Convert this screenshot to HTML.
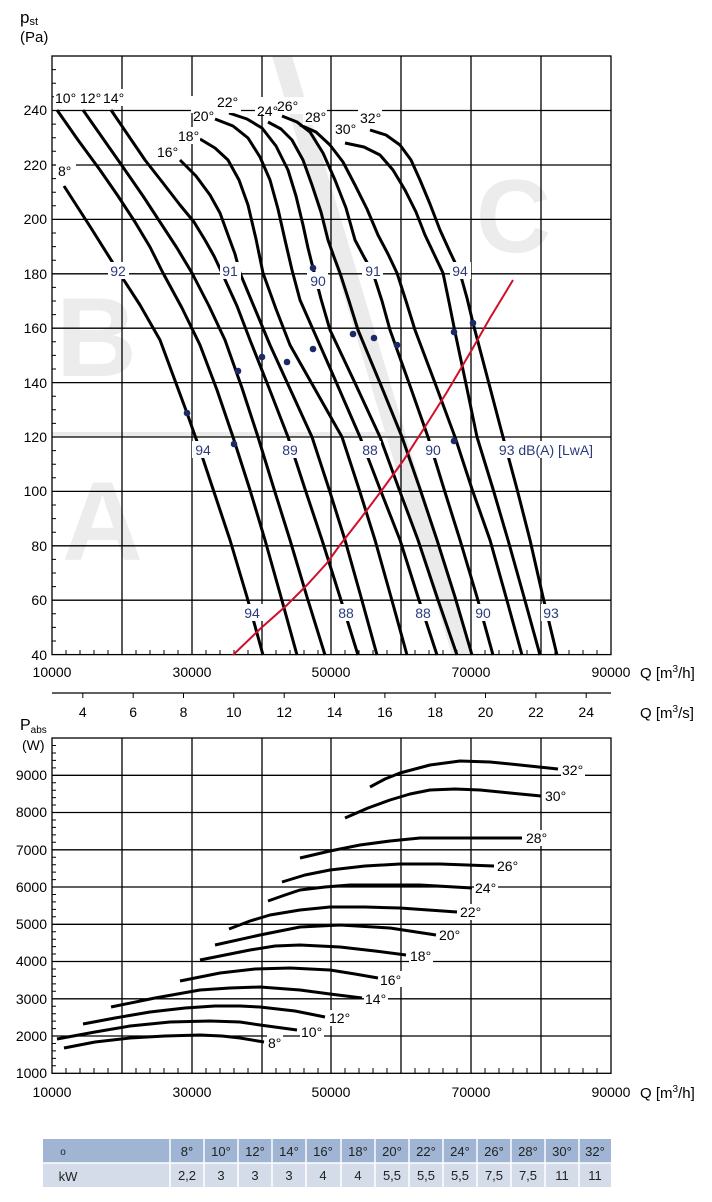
<!DOCTYPE html>
<html><head><meta charset="utf-8"><style>
html,body{margin:0;padding:0;background:#fff;}
svg{display:block;font-family:"Liberation Sans Narrow","Liberation Sans",sans-serif;}
</style></head><body>
<svg width="712" height="1202" viewBox="0 0 712 1202" xmlns="http://www.w3.org/2000/svg">
<!-- watermark -->
<g fill="#ececec" font-family="Liberation Sans, sans-serif" font-weight="bold">
<text x="56" y="376" font-size="112">B</text>
<text x="62" y="560" font-size="112">A</text>
<text x="476" y="252" font-size="104">C</text>
</g>
<polygon points="272,56 292,56 472,655 452,655" fill="#ebebeb"/>
<rect x="52" y="432" width="346" height="5" fill="#ebebeb"/>

<!-- top grid -->
<g stroke="#000" stroke-width="1.3" fill="none">
<rect x="52" y="56" width="559" height="598.6"/>
<path d="M122 56V655M192 56V655M262 56V655M331 56V655M401 56V655M471 56V655M541 56V655"/>
<path d="M52 110.5H611M52 165H611M52 219.4H611M52 273.8H611M52 328.2H611M52 382.6H611M52 437H611M52 491.4H611M52 545.8H611M52 600.2H611"/>
</g>
<g stroke="#000" stroke-width="1" id="tyt"></g>
<path stroke="#000" stroke-width="1" d="
M52 69.6h4M52 83.2h4M52 96.8h4M52 124.1h4M52 137.7h4M52 151.3h4M52 178.6h4M52 192.2h4M52 205.8h4M52 233h4M52 246.6h4M52 260.2h4M52 287.4h4M52 301h4M52 314.6h4M52 341.8h4M52 355.4h4M52 369h4M52 396.2h4M52 409.8h4M52 423.4h4M52 450.6h4M52 464.2h4M52 477.8h4M52 505h4M52 518.6h4M52 532.2h4M52 559.4h4M52 573h4M52 586.6h4M52 613.8h4M52 627.4h4M52 641h4
M66 655v-5M80 655v-5M94 655v-5M108 655v-5M136 655v-5M150 655v-5M164 655v-5M178 655v-5M206 655v-5M220 655v-5M234 655v-5M248 655v-5M276 655v-5M290 655v-5M304 655v-5M318 655v-5M345 655v-5M359 655v-5M373 655v-5M387 655v-5M415 655v-5M429 655v-5M443 655v-5M457 655v-5M485 655v-5M499 655v-5M513 655v-5M527 655v-5M555 655v-5M569 655v-5M583 655v-5M597 655v-5"/>

<!-- top curves -->
<g stroke="#000" stroke-width="3" fill="none" stroke-linejoin="round" stroke-linecap="butt">
<polyline points="64,186 91,228 118,271 140,305 160,340 187,413 200,450 215,495 230,540 247,597 263,655"/>
<polyline points="57,110 78,140 100,170 118,196 135,222 150,247 163,273 182,308 200,345 217,390 233,437 250,490 265,540 281,597 297,655"/>
<polyline points="83,110 104,140 125,170 143,196 160,222 177,248 192,273 209,306 225,340 242,388 258,437 274,489 290,540 307,597 325,655"/>
<polyline points="111,110 128,135 145,160 163,183 180,205 194,222 205,240 214,256 222,273 237,306 250,340 269,388 288,437 305,489 322,540 340,597 358,655"/>
<polyline points="180,160 196,176 210,195 220,213 228,235 235,254 240,273 255,309 270,345 291,391 312,437 329,489 345,540 361,597 377,655"/>
<polyline points="200,139 215,148 228,160 239,180 248,205 256,239 263,273 276,309 290,345 316,391 342,437 359,489 375,540 391,597 407,655"/>
<polyline points="215,119 233,126 248,138 260,157 270,180 278,209 285,240 292,270 300,300 330,368 360,437 380,489 400,540 418,597 437,655"/>
<polyline points="229,113 247,119 262,128 276,146 288,170 296,196 303,225 308,248 313,268 321,299 330,330 355,383 380,437 399,489 418,540 437,597 457,655"/>
<polyline points="268,122 281,129 292,140 303,160 312,185 321,212 328,240 334,257 340,273 349,301 358,330 380,383 402,437 420,489 437,540 455,597 472,655"/>
<polyline points="282,116 297,122 310,132 323,153 335,180 346,208 355,240 364,257 373,273 382,301 390,330 409,383 428,437 444,489 460,540 477,597 493,655"/>
<polyline points="300,125 316,132 330,145 343,162 355,185 367,209 378,235 388,254 397,273 406,301 415,330 435,383 455,437 472,489 490,540 506,597 522,655"/>
<polyline points="345,143 364,147 380,155 393,170 405,190 416,212 425,235 434,254 443,273 449,302 455,332 466,384 477,437 493,489 508,540 524,597 540,655"/>
<polyline points="370,130 386,135 400,145 411,160 420,180 430,204 440,230 450,252 460,273 467,298 473,323 488,380 503,437 517,489 530,540 543,597 557,655"/>
</g>
<polyline points="233,655 260,629 287,605 307,585 327,563 340,545 361,518 382,490 403,461 423,430 447,392 470,353 490,318 507,290 513,280" stroke="#d0102a" stroke-width="2" fill="none"/>
<g fill="#1c2a66">
<circle cx="187" cy="413" r="3.3"/><circle cx="238" cy="371" r="3.3"/><circle cx="262" cy="357" r="3.3"/><circle cx="287" cy="362" r="3.3"/><circle cx="313" cy="349" r="3.3"/><circle cx="353" cy="334" r="3.3"/><circle cx="374" cy="338" r="3.3"/><circle cx="397" cy="345" r="3.3"/><circle cx="454" cy="332" r="3.3"/><circle cx="473" cy="323" r="3.3"/><circle cx="313" cy="268" r="3.3"/><circle cx="234" cy="444" r="3.3"/><circle cx="454" cy="441" r="3.3"/>
</g>
<!-- blue labels -->
<g font-size="14" fill="#2a3a7c" text-anchor="middle">
<g fill="#fff"><rect x="108" y="262" width="21" height="17"/><rect x="220" y="262" width="21" height="17"/><rect x="307" y="272" width="21" height="17"/><rect x="362" y="262" width="21" height="17"/><rect x="450" y="262" width="21" height="17"/><rect x="192" y="441" width="22" height="17"/><rect x="280" y="441" width="21" height="17"/><rect x="360" y="441" width="21" height="17"/><rect x="422" y="441" width="21" height="17"/><rect x="500" y="441" width="92" height="17"/><rect x="242" y="604" width="21" height="17"/><rect x="336" y="604" width="21" height="17"/><rect x="413" y="604" width="21" height="17"/><rect x="473" y="604" width="21" height="17"/><rect x="541" y="604" width="21" height="17"/></g>
<text x="118" y="276">92</text><text x="230" y="276">91</text><text x="318" y="286">90</text><text x="373" y="276">91</text><text x="460" y="276">94</text>
<text x="203" y="455">94</text><text x="290" y="455">89</text><text x="370" y="455">88</text><text x="433" y="455">90</text><text x="546" y="455">93 dB(A) [LwA]</text>
<text x="252" y="618">94</text><text x="346" y="618">88</text><text x="423" y="618">88</text><text x="483" y="618">90</text><text x="551" y="618">93</text>
</g>
<!-- degree labels top -->
<g font-size="14" fill="#000">
<g fill="#fff"><rect x="54" y="89" width="72" height="17"/><rect x="191" y="96" width="50" height="17"/><rect x="255" y="97" width="60" height="17"/><rect x="303" y="108" width="24" height="17"/><rect x="333" y="119" width="25" height="17"/><rect x="358" y="108" width="24" height="17"/><rect x="176" y="127" width="24" height="17"/><rect x="155" y="143" width="24" height="17"/><rect x="56" y="162" width="20" height="17"/></g>
<text x="55" y="103">10°</text><text x="80" y="103">12°</text><text x="103" y="103">14°</text>
<text x="193" y="121">20°</text><text x="217" y="107">22°</text><text x="257" y="116">24°</text><text x="277" y="111">26°</text><text x="305" y="122">28°</text><text x="335" y="134">30°</text><text x="360" y="123">32°</text>
<text x="178" y="141">18°</text><text x="157" y="157">16°</text><text x="58" y="176">8°</text>
</g>
<!-- top axis labels -->
<g font-size="14" fill="#000" text-anchor="end">
<text x="47" y="115">240</text><text x="47" y="170">220</text><text x="47" y="224">200</text><text x="47" y="279">180</text><text x="47" y="333">160</text><text x="47" y="388">140</text><text x="47" y="442">120</text><text x="47" y="496">100</text><text x="47" y="551">80</text><text x="47" y="605">60</text><text x="47" y="660">40</text>
</g>
<text x="20" y="23" font-size="17">p<tspan font-size="11" dy="2">st</tspan></text>
<text x="20" y="42" font-size="15">(Pa)</text>
<g font-size="14" text-anchor="middle">
<text x="52" y="677">10000</text><text x="192" y="677">30000</text><text x="331" y="677">50000</text><text x="471" y="677">70000</text><text x="611" y="677">90000</text>
</g>
<text x="640" y="678" font-size="15">Q [m<tspan font-size="10" dy="-6">3</tspan><tspan dy="6">/h]</tspan></text>
<!-- m3/s axis -->
<path d="M52 693H611" stroke="#000" stroke-width="1.2"/>
<path stroke="#000" stroke-width="1" d="M82.8 693v5M133.2 693v5M183.5 693v5M233.8 693v5M284.2 693v5M334.5 693v5M384.9 693v5M435.2 693v5M485.5 693v5M535.9 693v5M586.2 693v5"/>
<g font-size="14" text-anchor="middle">
<text x="82.8" y="717">4</text><text x="133.2" y="717">6</text><text x="183.5" y="717">8</text><text x="233.8" y="717">10</text><text x="284.2" y="717">12</text><text x="334.5" y="717">14</text><text x="384.9" y="717">16</text><text x="435.2" y="717">18</text><text x="485.5" y="717">20</text><text x="535.9" y="717">22</text><text x="586.2" y="717">24</text>
</g>
<text x="640" y="718" font-size="15">Q [m<tspan font-size="10" dy="-6">3</tspan><tspan dy="6">/s]</tspan></text>

<!-- bottom chart -->
<text x="20" y="730" font-size="16">P<tspan font-size="10" dy="3">abs</tspan></text>
<text x="22" y="750" font-size="14">(W)</text>
<g stroke="#000" stroke-width="1.3" fill="none">
<rect x="52" y="738" width="559" height="335.3"/>
<path d="M122 738V1073M192 738V1073M262 738V1073M331 738V1073M401 738V1073M471 738V1073M541 738V1073"/>
<path d="M52 775.3H611M52 812.5H611M52 849.8H611M52 887H611M52 924.3H611M52 961.5H611M52 998.8H611M52 1036H611"/>
</g>
<path stroke="#000" stroke-width="1" d="
M52 745.5h4M52 753h4M52 760.4h4M52 767.9h4M52 782.7h4M52 790.2h4M52 797.6h4M52 805h4M52 820h4M52 827.4h4M52 834.9h4M52 842.3h4M52 857.2h4M52 864.7h4M52 872.1h4M52 879.6h4M52 894.5h4M52 901.9h4M52 909.4h4M52 916.8h4M52 931.7h4M52 939.2h4M52 946.6h4M52 954h4M52 969h4M52 976.4h4M52 983.9h4M52 991.3h4M52 1006.2h4M52 1013.7h4M52 1021.1h4M52 1028.6h4M52 1043.5h4M52 1050.9h4M52 1058.4h4M52 1065.8h4
M66 1073v-5M80 1073v-5M94 1073v-5M108 1073v-5M136 1073v-5M150 1073v-5M164 1073v-5M178 1073v-5M206 1073v-5M220 1073v-5M234 1073v-5M248 1073v-5M276 1073v-5M290 1073v-5M304 1073v-5M318 1073v-5M345 1073v-5M359 1073v-5M373 1073v-5M387 1073v-5M415 1073v-5M429 1073v-5M443 1073v-5M457 1073v-5M485 1073v-5M499 1073v-5M513 1073v-5M527 1073v-5M555 1073v-5M569 1073v-5M583 1073v-5M597 1073v-5"/>
<g stroke="#000" stroke-width="3" fill="none" stroke-linejoin="round">
<polyline points="64,1048 95,1042 130,1038 165,1036 200,1035 222,1036 240,1038 264,1042"/>
<polyline points="57,1039 95,1032 130,1026 170,1022 210,1021 240,1022 260,1025 297,1030"/>
<polyline points="83,1024 115,1018 150,1012 185,1008 215,1006 240,1006 260,1007 295,1011 325,1017"/>
<polyline points="111,1007 155,998 200,990 230,988 260,987 300,990 330,994 362,998"/>
<polyline points="180,981 220,973 255,969 290,968 330,970 355,974 378,978"/>
<polyline points="200,960 250,950 275,946 300,945 340,947 375,951 406,955"/>
<polyline points="215,945 260,935 300,927 340,925 390,928 436,935"/>
<polyline points="229,929 250,921 270,915 300,910 330,907 365,907 400,908 457,912"/>
<polyline points="268,901 285,895 300,890 325,887 350,885 420,885 472,888"/>
<polyline points="282,882 305,875 330,870 365,866 400,864 440,864 494,866"/>
<polyline points="300,858 330,851 360,845 390,841 420,838 490,838 522,838"/>
<polyline points="345,818 368,808 390,800 410,794 430,790 455,789 480,790 510,793 541,796"/>
<polyline points="370,787 385,779 400,773 430,765 460,761 490,762 520,765 558,769"/>
</g>
<g font-size="14" fill="#000">
<g fill="#fff"><rect x="267" y="1034" width="16" height="16"/><rect x="300" y="1024" width="24" height="16"/><rect x="328" y="1010" width="24" height="16"/><rect x="364" y="990" width="24" height="16"/><rect x="379" y="971" width="24" height="16"/><rect x="409" y="948" width="24" height="16"/><rect x="438" y="926" width="24" height="16"/><rect x="459" y="904" width="24" height="16"/><rect x="474" y="880" width="24" height="16"/><rect x="496" y="858" width="24" height="16"/><rect x="525" y="830" width="24" height="16"/><rect x="544" y="788" width="24" height="16"/><rect x="561" y="762" width="24" height="16"/></g>
<text x="268" y="1048">8°</text><text x="301" y="1037">10°</text><text x="329" y="1023">12°</text><text x="365" y="1004">14°</text><text x="380" y="985">16°</text><text x="410" y="961">18°</text><text x="439" y="940">20°</text><text x="460" y="917">22°</text><text x="475" y="893">24°</text><text x="497" y="871">26°</text><text x="526" y="843">28°</text><text x="545" y="801">30°</text><text x="562" y="775">32°</text>
</g>
<g font-size="14" text-anchor="end">
<text x="47" y="780">9000</text><text x="47" y="817">8000</text><text x="47" y="855">7000</text><text x="47" y="892">6000</text><text x="47" y="929">5000</text><text x="47" y="966">4000</text><text x="47" y="1004">3000</text><text x="47" y="1041">2000</text><text x="47" y="1078">1000</text>
</g>
<g font-size="14" text-anchor="middle">
<text x="52" y="1097">10000</text><text x="192" y="1097">30000</text><text x="331" y="1097">50000</text><text x="471" y="1097">70000</text><text x="611" y="1097">90000</text>
</g>
<text x="640" y="1098" font-size="15">Q [m<tspan font-size="10" dy="-6">3</tspan><tspan dy="6">/h]</tspan></text>

<!-- table -->
<rect x="43" y="1139" width="568" height="24" fill="#9fb5d3"/>
<rect x="43" y="1163" width="568" height="24" fill="#d4dcea"/>
<g stroke="#fff" stroke-width="1.5">
<path d="M43 1163H611"/>
<path d="M170 1139v48M204 1139v48M238 1139v48M272 1139v48M306 1139v48M341 1139v48M375 1139v48M409 1139v48M443 1139v48M477 1139v48M511 1139v48M545 1139v48M579 1139v48"/>
</g>
<g font-size="13" fill="#222" text-anchor="middle">
<text x="63" y="1155" font-size="10">o</text>
<text x="68" y="1181">kW</text>
<text x="187" y="1156">8°</text><text x="221" y="1156">10°</text><text x="255" y="1156">12°</text><text x="289" y="1156">14°</text><text x="323" y="1156">16°</text><text x="358" y="1156">18°</text><text x="392" y="1156">20°</text><text x="426" y="1156">22°</text><text x="460" y="1156">24°</text><text x="494" y="1156">26°</text><text x="528" y="1156">28°</text><text x="562" y="1156">30°</text><text x="595" y="1156">32°</text>
<text x="187" y="1180">2,2</text><text x="221" y="1180">3</text><text x="255" y="1180">3</text><text x="289" y="1180">3</text><text x="323" y="1180">4</text><text x="358" y="1180">4</text><text x="392" y="1180">5,5</text><text x="426" y="1180">5,5</text><text x="460" y="1180">5,5</text><text x="494" y="1180">7,5</text><text x="528" y="1180">7,5</text><text x="562" y="1180">11</text><text x="595" y="1180">11</text>
</g>
</svg>
</body></html>
